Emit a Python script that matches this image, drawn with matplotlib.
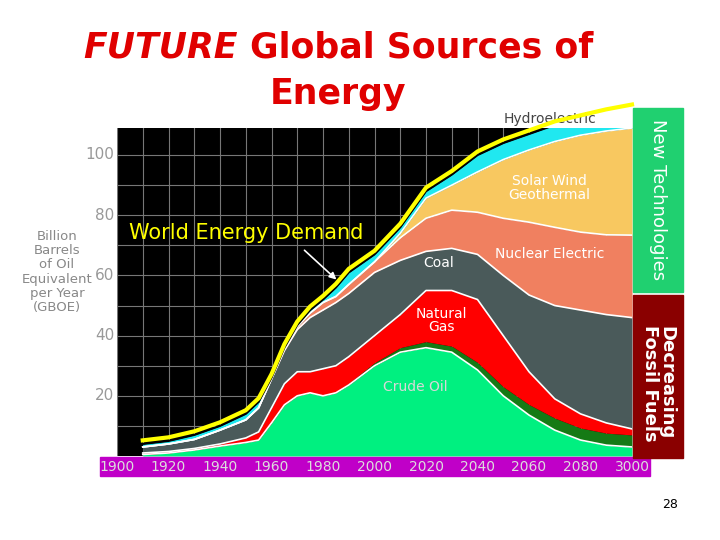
import numpy as np
import matplotlib
matplotlib.use("Agg")
import matplotlib.pyplot as plt
from matplotlib.patches import Rectangle

years = [1910, 1920, 1930, 1940, 1950, 1955, 1960, 1965, 1970, 1975, 1980, 1985,
         1990, 2000, 2010, 2020, 2030, 2040, 2050, 2060, 2070, 2080, 2090, 2100]
# cumulative tops of each layer (GBOE)
oil_top = [0.5, 1, 2, 3.3, 4.5, 5.3, 11, 17, 20, 21, 20, 21,
           23.6, 30, 34.5, 36, 34.5, 28.6, 20, 13.6, 8.6, 5.3, 3.6, 3]
dark_green = [0, 0, 0, 0, 0, 0, 0, 0, 0, 0, 0, 0,
              0.5, 1, 1.5, 2, 2, 2.5, 3, 3.5, 4, 4, 4, 4]
gas_top = [1, 1.5, 2.5, 4, 6, 8, 16, 24, 28, 28, 29, 30,
           33, 40, 47, 55, 55, 52, 40, 28, 19, 14, 11, 9]
coal_top = [3, 4, 5.5, 8.6, 12, 16, 25.5, 35, 42, 46, 48.5, 51,
            54, 61, 65, 68, 69, 67, 60, 53.5, 50, 48.5, 47, 46]
nuclear_top = [3, 4, 5.5, 8.6, 12, 16, 25.7, 35.5, 43, 47.5, 51, 53,
               57, 64.5, 72.5, 79, 81.7, 81, 79, 77.7, 76, 74.4, 73.5, 73.4]
solar_top = [3, 4, 5.5, 8.6, 12, 16, 25.7, 35.5, 43, 47.5, 51, 53,
             57, 64.5, 74, 85.7, 90, 94.4, 98.5, 101.7, 104.5, 106.6, 108, 109]
hydro_top = [4, 5, 7, 10, 14, 18, 26, 36, 43.5, 48.5, 52, 56,
             61, 67, 76, 88, 93.5, 100, 104, 107, 110, 112, 114, 115.6]
demand_offset = 1.2

x_ticks = [1900, 1920, 1940, 1960, 1980, 2000, 2020, 2040, 2060, 2080, 2100]
x_labels = ["1900", "1920", "1940", "1960", "1980", "2000", "2020", "2040", "2060", "2080", "3000"]
y_ticks = [20, 40, 60, 80, 100]

yr = np.array(years, dtype=float)
green_top = np.array(oil_top) + np.array(dark_green)

fig = plt.figure(figsize=(7.2, 5.4), dpi=100)
ax = fig.add_axes([117 / 720, 1 - 456 / 540, 515 / 720, 328 / 540])
ax.set_facecolor("black")
ax.set_xlim(1900, 2100)
ax.set_ylim(0, 109)
for gx in range(1900, 2101, 10):
    ax.axvline(gx, color="#777777", lw=0.8, zorder=0)
for gy in range(10, 110, 10):
    ax.axhline(gy, color="#777777", lw=0.8, zorder=0)

layers = [
    (np.zeros_like(yr), oil_top, "#00f080"),
    (oil_top, green_top, "#157a15"),
    (green_top, gas_top, "#ff0000"),
    (gas_top, coal_top, "#4a5a5a"),
    (coal_top, nuclear_top, "#f08060"),
    (nuclear_top, solar_top, "#f8c860"),
    (solar_top, hydro_top, "#20e8f0"),
]
for lo, hi, c in layers:
    ax.fill_between(yr, lo, hi, color=c, lw=0, zorder=2)
for top in [oil_top, gas_top, coal_top, nuclear_top, solar_top]:
    ax.plot(yr, top, color="white", lw=1.2, zorder=3)
ax.plot(yr, hydro_top, color="black", lw=1.5, zorder=4)
ax.plot(yr, np.array(hydro_top) + demand_offset, color="yellow", lw=3, zorder=4, clip_on=False)

ax.set_xticks([])
ax.set_yticks([])
for s in ax.spines.values():
    s.set_visible(False)

# purple year band
fig.patches.append(Rectangle((100 / 720, 1 - 476 / 540), 550 / 720, 19 / 540,
                             transform=fig.transFigure, color="#c000c8", zorder=0))
for t, lab in zip(x_ticks, x_labels):
    px = 117 + (t - 1900) / 200 * 515
    fig.text(px / 720, 1 - 467 / 540, lab, ha="center", va="center", color="#dddddd", fontsize=10)
for v in y_ticks:
    py = 456 - v * 3.01
    fig.text(114 / 720, 1 - py / 540, str(v), ha="right", va="center", color="#999999", fontsize=11)

# side panels
fig.patches.append(Rectangle((633 / 720, 1 - 292 / 540), 50 / 720, 184 / 540,
                             transform=fig.transFigure, color="#20d070"))
fig.patches.append(Rectangle((633 / 720, 1 - 458 / 540), 50 / 720, 163 / 540,
                             transform=fig.transFigure, color="#8a0000"))
fig.text(658 / 720, 1 - 200 / 540, "New Technologies", rotation=-90, ha="center", va="center",
         color="white", fontsize=13)
fig.text(658 / 720, 1 - 383 / 540, "Decreasing\nFossil Fuels", rotation=-90, ha="center", va="center",
         color="white", fontsize=13, fontweight="bold", linespacing=0.9)

fig.text(57 / 720, 1 - 272 / 540, "Billion\nBarrels\nof Oil\nEquivalent\nper Year\n(GBOE)",
         ha="center", va="center", color="#888888", fontsize=9.5, linespacing=1.1)

fig.text(83 / 720, 1 - 47 / 540, "FUTURE", ha="left", va="center", color="#e00000",
         fontsize=25, fontweight="bold", style="italic")
fig.text(250 / 720, 1 - 47 / 540, "Global Sources of", ha="left", va="center", color="#e00000",
         fontsize=25, fontweight="bold")
fig.text(338 / 720, 1 - 94 / 540, "Energy", ha="center", va="center", color="#e00000",
         fontsize=25, fontweight="bold")
fig.text(670 / 720, 1 - 505 / 540, "28", ha="center", va="center", color="black", fontsize=9)

# in-chart labels
ax.text(2068, 112, "Hydroelectric", ha="center", va="center", color="#444444", fontsize=10, clip_on=False)
ax.text(2068, 89, "Solar Wind\nGeothermal", ha="center", va="center", color="white", fontsize=10, linespacing=0.95)
ax.text(2068, 67, "Nuclear Electric", ha="center", va="center", color="white", fontsize=10)
ax.text(2025, 64, "Coal", ha="center", va="center", color="white", fontsize=10)
ax.text(2026, 45, "Natural\nGas", ha="center", va="center", color="white", fontsize=10, linespacing=0.95)
ax.text(2016, 23, "Crude Oil", ha="center", va="center", color="#d8d8d8", fontsize=10)
ax.text(1950, 74, "World Energy Demand", ha="center", va="center", color="yellow", fontsize=15)
ax.annotate("", xy=(1986, 58), xytext=(1972, 69),
            arrowprops=dict(arrowstyle="-|>", color="white", lw=1.2))

fig.savefig("out.png", dpi=100, facecolor="white")
